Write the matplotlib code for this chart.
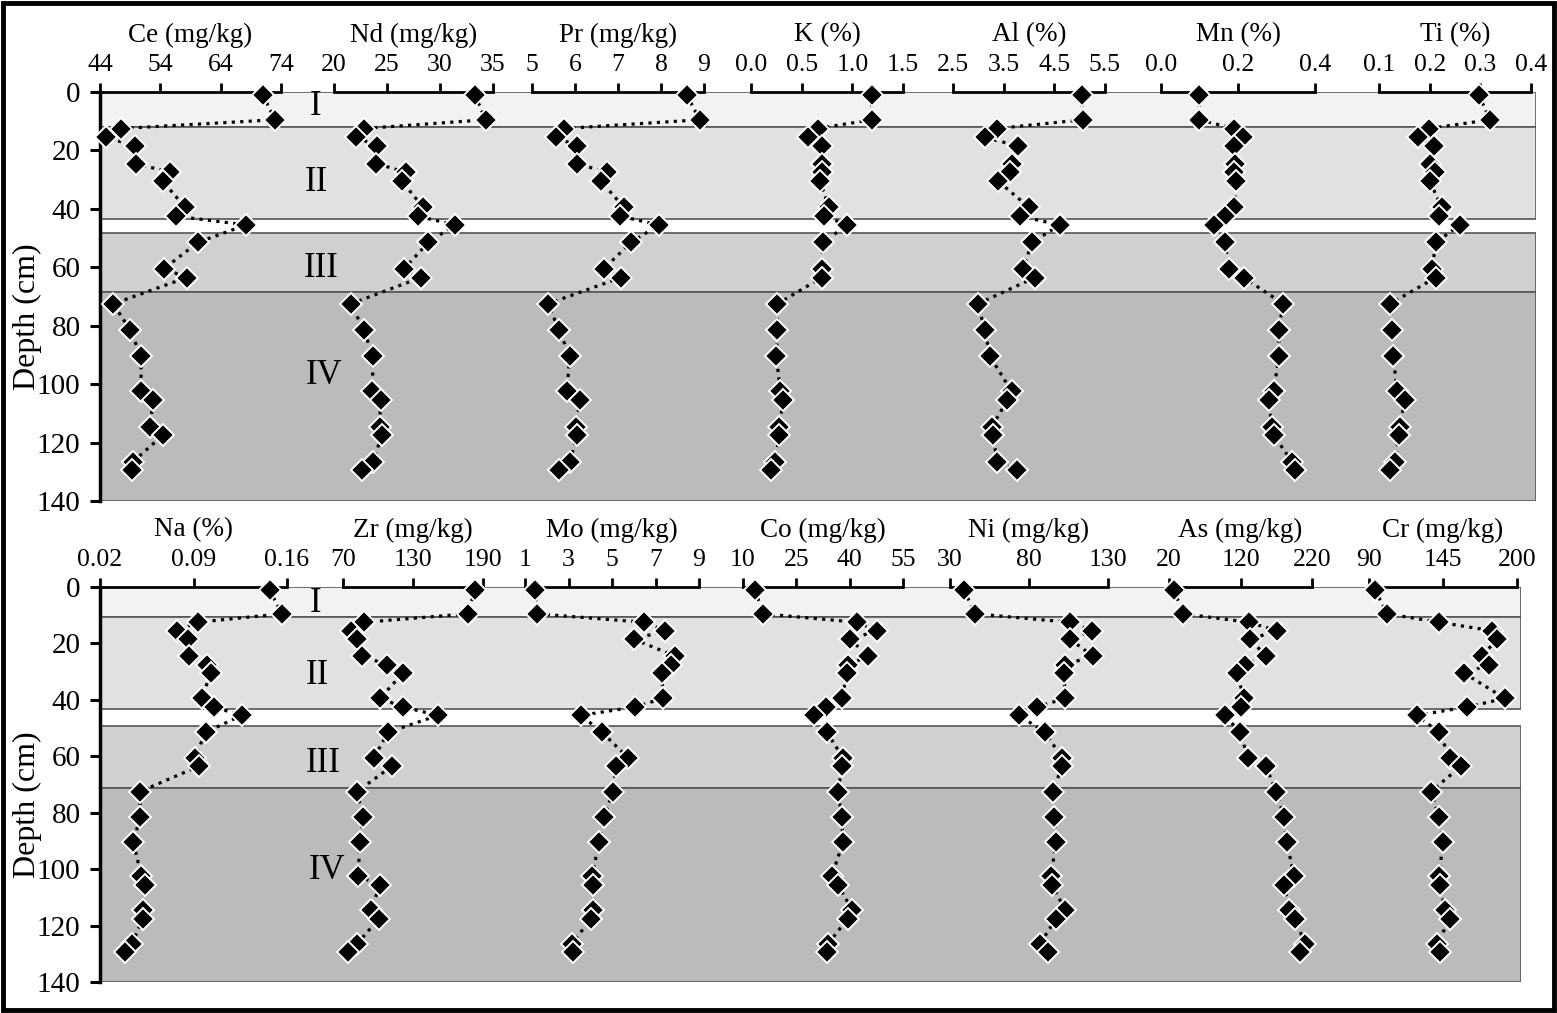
import matplotlib.pyplot as plt
from matplotlib.patches import Rectangle

plt.rcParams["font.family"] = ["Liberation Serif", "DejaVu Serif"]

# sample depths (cm)
depth = [1, 9.5, 12.5, 15.5, 18.5, 24.5, 27.5, 30.5, 39.5, 42.5, 45.5, 51.5,
         60.5, 63.5, 72.5, 81.5, 90.5, 102.5, 105.5, 114.5, 117.5, 126.5, 129.5]

# top row
ce = [71.0, 73.0, 47.5, 45.0, 49.8, 50.0, 55.6, 54.4, 58.1, 56.6, 68.2, 60.2,
      54.6, 58.4, 46.2, 49.0, 50.8, 50.8, 52.8, 52.3, 54.4, 49.5, 49.3]
nd = [33.3, 34.3, 22.8, 22.1, 24.1, 24.0, 26.8, 26.4, 28.4, 27.9, 31.4, 28.9,
      26.6, 28.2, 21.6, 22.8, 23.7, 23.6, 24.4, 24.3, 24.5, 23.7, 22.6]
pr = [8.6, 8.9, 5.75, 5.56, 6.05, 6.05, 6.74, 6.6, 7.14, 7.05, 7.95, 7.3,
      6.67, 7.07, 5.37, 5.63, 5.88, 5.81, 6.12, 6.02, 6.05, 5.88, 5.63]
k = [1.19, 1.19, 0.66, 0.56, 0.70, 0.70, 0.70, 0.68, 0.77, 0.72, 0.95, 0.71,
     0.70, 0.70, 0.26, 0.26, 0.25, 0.29, 0.32, 0.28, 0.28, 0.24, 0.20]
al = [5.04, 5.06, 3.37, 3.13, 3.78, 3.66, 3.62, 3.39, 4.0, 3.82, 4.61, 4.06,
      3.88, 4.12, 2.99, 3.13, 3.23, 3.66, 3.57, 3.27, 3.29, 3.37, 3.76]
mn = [0.099, 0.099, 0.19, 0.213, 0.19, 0.192, 0.19, 0.195, 0.19, 0.166, 0.138, 0.166,
      0.177, 0.215, 0.317, 0.306, 0.306, 0.293, 0.28, 0.288, 0.293, 0.34, 0.348]
ti = [0.297, 0.319, 0.199, 0.177, 0.209, 0.2, 0.21, 0.2, 0.224, 0.218, 0.26, 0.212,
      0.205, 0.212, 0.122, 0.126, 0.128, 0.136, 0.151, 0.141, 0.139, 0.132, 0.122]

# bottom row
na = [0.147, 0.156, 0.093, 0.078, 0.086, 0.087, 0.100, 0.103, 0.096, 0.105, 0.126, 0.099,
      0.091, 0.094, 0.050, 0.050, 0.045, 0.051, 0.054, 0.052, 0.052, 0.044, 0.039]
zr = [183.1, 177.1, 88, 76.9, 82, 86.3, 107.7, 121.4, 101.7, 121.4, 151.4, 108.6,
      96.6, 112, 82, 87.1, 84.6, 82.9, 101.7, 94, 100.9, 82, 74.3]
mo = [1.46, 1.55, 6.47, 7.44, 6.01, 7.9, 7.7, 7.3, 7.34, 6.06, 3.57, 4.54,
      5.74, 5.18, 5.05, 4.63, 4.4, 4.08, 4.13, 4.13, 4.03, 3.16, 3.21]
co = [13.4, 15.6, 42.1, 47.7, 40.1, 45.2, 39.5, 39.2, 37.8, 33.3, 30, 33.6,
      38.1, 37.8, 36.7, 37.8, 38.1, 35, 36.7, 40.7, 39.5, 33.9, 33.6]
ni = [38.9, 45.8, 105.9, 119.9, 105.9, 120.5, 102.8, 102.2, 102.8, 85, 73.7, 90.1,
      100.9, 100.9, 95.2, 95.8, 97.1, 93.9, 94.6, 102.8, 97.1, 87, 92]
as_ = [27, 39.6, 131.9, 171, 133.3, 155.7, 126.3, 115.1, 124.9, 120.7, 98.3, 119.3,
       130.5, 155.7, 169.7, 180.8, 185, 194.8, 180.8, 187.8, 196.2, 210.2, 203.2]
cr = [94.5, 103.4, 142, 181.5, 185.2, 174, 179.2, 160.6, 191.1, 162.9, 125.7, 142,
      150.2, 158.4, 136.1, 142, 145, 142, 142.8, 146.5, 150.2, 140.6, 142.8]

# soil horizons (depth ranges, cm)
zones = ["I", "II", "III", "IV"]
zones_top = [(0, 12), (12, 43.4), (48.3, 68.5), (68.5, 140)]
zones_bottom = [(0, 10.7), (10.7, 43.3), (49.2, 71.3), (71.3, 140)]
zone_colors = ["#f2f2f2", "#e1e1e1", "#d0d0d0", "#bbbbbb"]

W, H = 1557, 1013
fig = plt.figure(figsize=(W / 100, H / 100), dpi=100)


def box(x0, x1, ytop, ybot):
    return [x0 / W, 1 - ybot / H, (x1 - x0) / W, (ybot - ytop) / H]


def panel(ytop, ybot, xright, spans, label_pos, subplots):
    bg = fig.add_axes(box(100, xright, ytop, ybot))
    bg.set_xlim(0, 1)
    bg.set_ylim(140, 0)
    for (a, b), c in zip(spans, zone_colors):
        bg.axhspan(a, b, color=c, ec="#555555", lw=1.2)
    for name, (x, y) in zip(zones, label_pos):
        bg.text(x, y, name, fontsize=25, ha="center", va="center", zorder=5)
    for s in ["top", "right", "bottom"]:
        bg.spines[s].set_visible(False)
    bg.spines["left"].set_linewidth(2.5)
    bg.set_xticks([])
    bg.set_yticks(range(0, 141, 20))
    bg.tick_params(axis="y", direction="out", length=7, width=2.2,
                   labelsize=21, pad=7)
    bg.set_ylabel("Depth (cm)", fontsize=23)
    bg.yaxis.set_label_coords(-58 / (xright - 100), 0.5 - 20 / (ybot - ytop))

    for title, vals, (x0, x1), lim, ticks, labels in subplots:
        ax = fig.add_axes(box(x0, x1, ytop, ybot))
        ax.set_xlim(*lim)
        ax.set_ylim(140, 0)
        ax.patch.set_visible(False)
        for s in ["left", "right", "bottom"]:
            ax.spines[s].set_visible(False)
        ax.spines["top"].set_linewidth(2)
        ax.xaxis.tick_top()
        ax.set_xticks(ticks, labels)
        ax.set_yticks([])
        ax.tick_params(axis="x", direction="out", length=6.5, width=2,
                       labelsize=18.5, pad=5)
        ax.xaxis.set_label_position("top")
        ax.set_xlabel(title, fontsize=19.5, labelpad=9)
        ax.plot(vals, depth, ls=":", lw=2.3, color="black", marker="D",
                ms=11.5, mfc="black", mec="white", mew=1.4, clip_on=False, zorder=3)


top = [
    ("Ce (mg/kg)", ce, (100, 281), (44, 74), [44, 54, 64, 74], ["44", "54", "64", "74"]),
    ("Nd (mg/kg)", nd, (334, 493), (20, 35), [20, 25, 30, 35], ["20", "25", "30", "35"]),
    ("Pr (mg/kg)", pr, (532, 704), (5, 9), [5, 6, 7, 8, 9], ["5", "6", "7", "8", "9"]),
    ("K (%)", k, (751, 903), (0, 1.5), [0, 0.5, 1.0, 1.5], ["0.0", "0.5", "1.0", "1.5"]),
    ("Al (%)", al, (953, 1105), (2.5, 5.5), [2.5, 3.5, 4.5, 5.5], ["2.5", "3.5", "4.5", "5.5"]),
    ("Mn (%)", mn, (1161, 1315), (0, 0.4), [0, 0.2, 0.4], ["0.0", "0.2", "0.4"]),
    ("Ti (%)", ti, (1379, 1531), (0.1, 0.4), [0.1, 0.2, 0.3, 0.4], ["0.1", "0.2", "0.3", "0.4"]),
]
bottom = [
    ("Na (%)", na, (100, 287), (0.02, 0.16), [0.02, 0.09, 0.16], ["0.02", "0.09", "0.16"]),
    ("Zr (mg/kg)", zr, (343, 483), (70, 190), [70, 130, 190], ["70", "130", "190"]),
    ("Mo (mg/kg)", mo, (525, 699), (1, 9), [1, 3, 5, 7, 9], ["1", "3", "5", "7", "9"]),
    ("Co (mg/kg)", co, (743, 903), (10, 55), [10, 25, 40, 55], ["10", "25", "40", "55"]),
    ("Ni (mg/kg)", ni, (950, 1108), (30, 130), [30, 80, 130], ["30", "80", "130"]),
    ("As (mg/kg)", as_, (1169, 1312), (20, 220), [20, 120, 220], ["20", "120", "220"]),
    ("Cr (mg/kg)", cr, (1369, 1517), (90, 200), [90, 145, 200], ["90", "145", "200"]),
]

panel(92, 501, 1536, zones_top,
      [(0.150, 5.1), (0.151, 31), (0.154, 60.3), (0.156, 97)], top)
panel(587, 982, 1521, zones_bottom,
      [(0.152, 5.7), (0.153, 31.2), (0.157, 62.4), (0.160, 100.4)], bottom)

fig.patches.append(Rectangle((0.002, 0.003), 0.996, 0.994, transform=fig.transFigure,
                             fill=False, lw=3.5, ec="black"))

fig.savefig("out.png", dpi=100)
